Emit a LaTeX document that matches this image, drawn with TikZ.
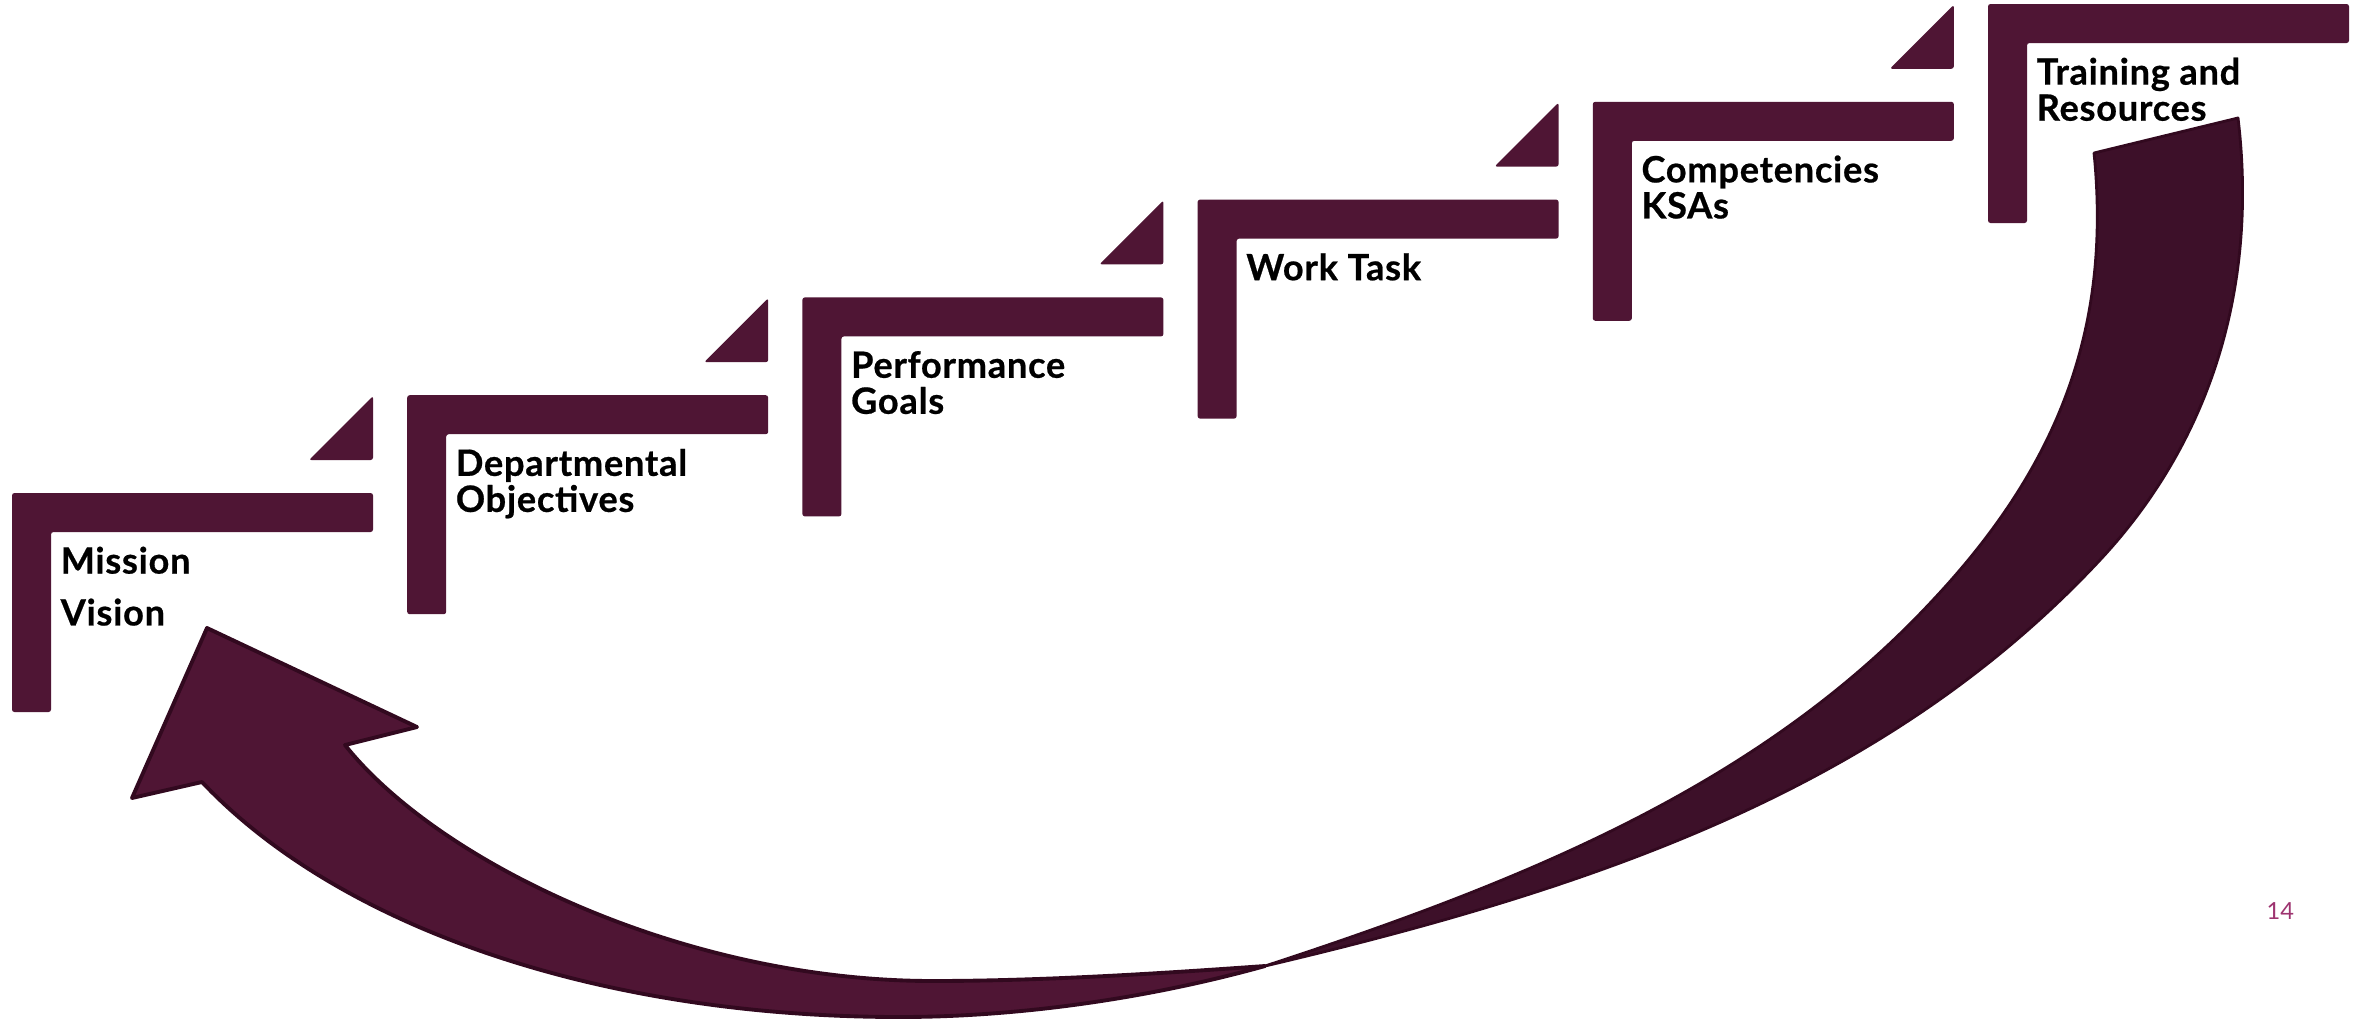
\documentclass[tikz,border=0pt]{standalone}
\usepackage{fontspec}
\setmainfont{Lato}
\usetikzlibrary{positioning}

\definecolor{plum}{RGB}{79,21,52}
\definecolor{plumdark}{RGB}{61,16,41}
\definecolor{plumline}{RGB}{50,9,31}
\definecolor{pagepink}{RGB}{158,52,112}

\begin{document}
\begin{tikzpicture}[
    x=0.01cm, y=-0.01cm,
    stair/.style={fill=plum, rounded corners=0.7pt},
    wedge/.style={fill=plum, rounded corners=0.7pt},
    lbl/.style={inner sep=0pt, align=left, font=\fontsize{10.3}{10.25}\selectfont\bfseries\addfontfeatures{LetterSpace=2,FakeBold=0.6}},
    band/.style={fill=plum, draw=plumline, line width=1.1pt, line join=round},
    backband/.style={fill=plumdark, draw=plumline, line width=0.8pt, line join=round}
]

\fill[white] (0,0) rectangle (2376,1021);

% Staircase
\foreach \i in {0,...,5} {
  \pgfmathsetmacro\sx{12+395.2*\i}
  \pgfmathsetmacro\sy{493-97.8*\i}
  \fill[stair] (\sx,\sy) -- ++(361,0) -- ++(0,39) -- ++(-322,0) -- ++(0,180) -- ++(-39,0) -- cycle;
  \coordinate (c\i) at (\sx+39,\sy+39);
}
\foreach \i in {0,...,4} {
  \pgfmathsetmacro\sx{12+395.2*\i}
  \pgfmathsetmacro\sy{493-97.8*\i}
  \fill[wedge] (\sx+361,\sy-97) -- (\sx+361,\sy-33) -- (\sx+297,\sy-33) -- cycle;
}

% Step labels
\node[lbl, below right=0.14cm and 0.09cm of c0] (mission) {Mission\\[4.5pt]Vision};
\node[lbl, below right=0.14cm and 0.09cm of c1] (objectives) {Departmental\\Objectives};
\node[lbl, below right=0.14cm and 0.09cm of c2] (goals) {Performance\\Goals};
\node[lbl, below right=0.14cm and 0.09cm of c3] (task) {Work Task};
\node[lbl, below right=0.14cm and 0.09cm of c4] (ksa) {Competencies\\KSAs};
\node[lbl, below right=0.14cm and 0.09cm of c5] (training) {Training and\\Resources};

% Return arrow
\coordinate (twist) at (1265,966);
\coordinate (tailin) at (2094,153);
\coordinate (tailout) at (2238,118);

% back part, from the tail down to the twist
\filldraw[backband] (tailout)
  .. controls (2258,285) and (2212,440) .. (2100,560)
  .. controls (1890,785) and (1605,886) .. (twist)
  .. controls (1531,879) and (1763,783) .. (1933,600)
  .. controls (2055,470) and (2112,333) .. (tailin) -- cycle;

% front part, from the twist round to the head
\filldraw[band] (twist)
  .. controls (1150,998) and (1020,1017) .. (900,1017)
  .. controls (600,1017) and (340,928) .. (202,782)
  -- (132,798) -- (207,628) -- (417,727) -- (345,745)
  .. controls (438,862) and (683,981) .. (933,981)
  .. controls (1050,981) and (1180,972) .. (twist) -- cycle;

% Page number
\node[anchor=base west, inner sep=0pt, text=pagepink, font=\fontsize{6.7}{8}\selectfont] (pagenum) at (2266,919) {14};
\end{tikzpicture}
\end{document}
